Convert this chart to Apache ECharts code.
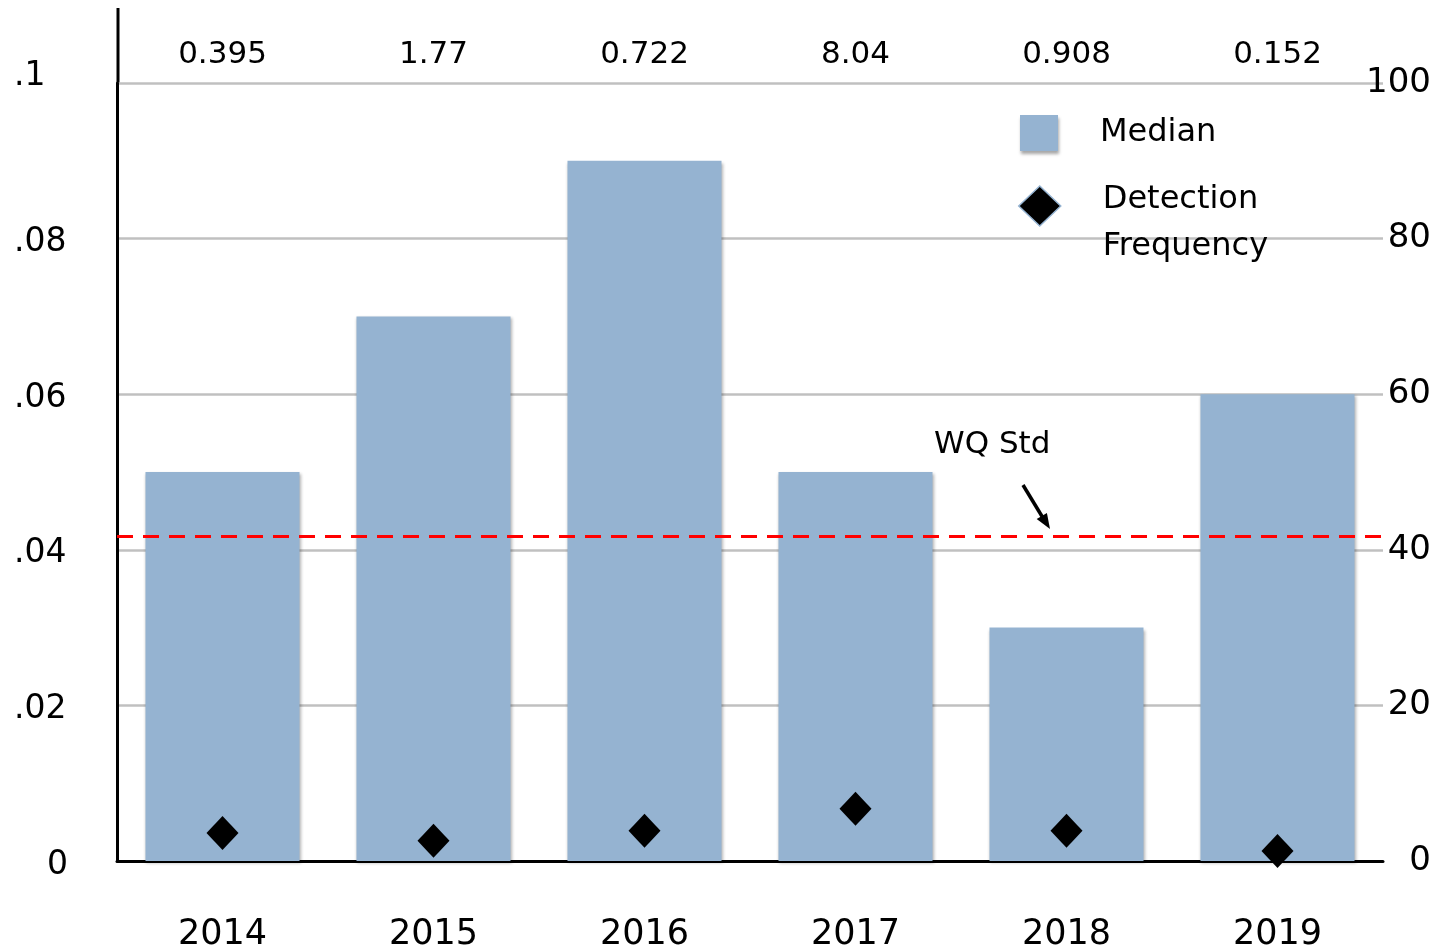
<!DOCTYPE html>
<html>
<head>
<meta charset="utf-8">
<script src="https://cdn.jsdelivr.net/npm/echarts@6/dist/echarts.min.js"></script>
<style>html,body{margin:0;padding:0;background:#fff}#c{width:1445px;height:952px}</style>
</head>
<body>
<div id="c"></div>
<script>
const years = ['2014', '2015', '2016', '2017', '2018', '2019'];
const topLabels = ['0.395', '1.77', '0.722', '8.04', '0.908', '0.152'];
const median = [0.05, 0.07, 0.09, 0.05, 0.03, 0.06];
const detectionFrequency = [3.6, 2.6, 3.9, 6.7, 3.9, 1.3];
const wqStd = 0.0417;
const leftTickLabels = ['0', '.02', '.04', '.06', '.08', '.1'];
const rightTickLabels = ['0', '20', '40', '60', '80', '100'];

const FONT = 'DejaVu Sans';
const chart = echarts.init(document.getElementById('c'));
chart.setOption({
  animation: false,
  textStyle: { fontFamily: FONT, color: '#000' },
  grid: { left: 117, right: 62, top: 83, bottom: 90, containLabel: false },
  legend: [
    {
      data: ['Median'], orient: 'vertical', left: 1015, top: 110,
      itemWidth: 38, itemHeight: 36, icon: 'rect',
      itemStyle: { shadowColor: 'rgba(0,0,0,0.35)', shadowBlur: 3, shadowOffsetX: 1, shadowOffsetY: 3 },
      textStyle: { fontSize: 32, color: '#000', padding: [0, 0, 0, 37], fontFamily: FONT }
    },
    {
      data: ['Detection Frequency'], orient: 'vertical', left: 1013, top: 149,
      itemWidth: 42, itemHeight: 40,
      formatter: n => '{s| }\n{a|' + n.split(' ')[0] + '}\n{a|' + n.split(' ')[1] + '}',
      itemStyle: { color: '#000', borderColor: '#95b3d1', borderWidth: 1.5 },
      textStyle: {
        fontSize: 32, color: '#000', padding: [0, 0, 0, 37], fontFamily: FONT,
        rich: {
          s: { fontSize: 10, lineHeight: 35, fontFamily: FONT },
          a: { fontSize: 32, lineHeight: 47, color: '#000', fontFamily: FONT }
        }
      }
    }
  ],
  xAxis: [
    {
      type: 'category', data: years, position: 'bottom',
      axisLine: { lineStyle: { color: '#000', width: 3 } },
      axisTick: { show: false },
      axisLabel: { fontSize: 35, color: '#000', margin: 56, fontFamily: FONT }
    },
    {
      type: 'category', data: topLabels, position: 'top',
      axisLine: { show: false }, axisTick: { show: false },
      axisLabel: { fontSize: 31, color: '#000', margin: 13, fontFamily: FONT }
    }
  ],
  yAxis: [
    {
      type: 'value', min: 0, max: 0.1, interval: 0.02, position: 'left',
      axisLine: { show: true, lineStyle: { color: '#000', width: 3 } },
      axisTick: { show: false },
      splitLine: { lineStyle: { color: '#c0c0c0', width: 2.5 } },
      axisLabel: {
        align: 'left', margin: 103, fontSize: 33, color: '#000', fontFamily: FONT,
        formatter: v => {
          const s = leftTickLabels[Math.round(v / 0.02)];
          if (s === '0') return '{z|' + s + '}';
          if (s === '.1') return '{t|' + s + '}';
          return '{n|' + s + '}';
        },
        rich: {
          n: { fontSize: 33, padding: [8, 0, 0, 0], fontFamily: FONT },
          z: { fontSize: 33, padding: [8, 0, 0, 33], fontFamily: FONT },
          t: { fontSize: 33, padding: [0, 0, 14, 0], fontFamily: FONT }
        }
      }
    },
    {
      type: 'value', min: 0, max: 100, interval: 20, position: 'right',
      axisLine: { show: false }, axisTick: { show: false }, splitLine: { show: false },
      axisLabel: {
        align: 'right', margin: 48, fontSize: 34, color: '#000', fontFamily: FONT,
        formatter: v => rightTickLabels[Math.round(v / 20)]
      }
    }
  ],
  series: [
    {
      name: 'Median', type: 'bar', data: median, barWidth: '73%',
      xAxisIndex: 0, yAxisIndex: 0,
      itemStyle: { color: '#95b3d1', shadowColor: 'rgba(0,0,0,0.3)', shadowBlur: 3, shadowOffsetX: 1, shadowOffsetY: 2 },
      markLine: {
        silent: true, symbol: 'none', label: { show: false }, precision: 5,
        lineStyle: { color: '#ff0000', type: [16, 10], width: 3 },
        data: [{ yAxis: wqStd }]
      },
      z: 2
    },
    {
      name: 'Detection Frequency', type: 'scatter', data: detectionFrequency,
      xAxisIndex: 0, yAxisIndex: 1, symbol: 'diamond', symbolSize: [32, 34],
      itemStyle: { color: '#000', opacity: 1 }, z: 5
    }
  ],
  graphic: [
    { type: 'line', shape: { x1: 118, y1: 8, x2: 118, y2: 84 }, style: { stroke: '#000', lineWidth: 3 } },
    { type: 'text', left: 934, top: 429, style: { text: 'WQ Std', fontSize: 31, fontFamily: FONT, fill: '#000' } },
    { type: 'line', shape: { x1: 1023, y1: 485, x2: 1043, y2: 518 }, style: { stroke: '#000', lineWidth: 3.5 } },
    { type: 'polygon', shape: { points: [[1050, 529], [1036.7, 519.1], [1046.9, 512.9]] }, style: { fill: '#000' } }
  ]
});
</script>
</body>
</html>
